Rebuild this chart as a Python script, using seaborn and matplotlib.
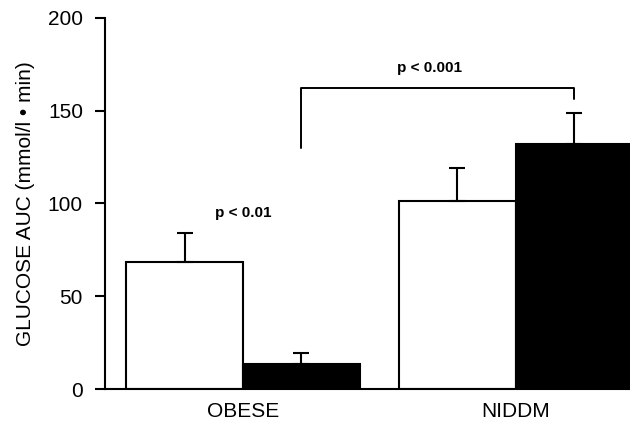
import matplotlib
matplotlib.use("Agg")
import matplotlib.pyplot as plt
import seaborn as sns
import pandas as pd
import numpy as np

# values
groups = ["OBESE", "NIDDM"]
conditions = ["before", "after"]
auc_before = [68.5, 101.5]
auc_after = [13.5, 132.0]
sem_before = [15.8, 17.8]
sem_after = [6.0, 16.5]

p_within = "p < 0.01"
p_between = "p < 0.001"

df = pd.DataFrame({
    "group": groups * 2,
    "condition": [conditions[0]] * 2 + [conditions[1]] * 2,
    "auc": auc_before + auc_after,
    "err": sem_before + sem_after,
})

sns.set_style("ticks", {"axes.edgecolor": "black", "text.color": "black",
                        "xtick.color": "black", "ytick.color": "black",
                        "axes.labelcolor": "black"})
plt.rcParams["font.family"] = ["Liberation Sans", "DejaVu Sans"]

fig, ax = plt.subplots(figsize=(6.3, 4.22), dpi=100)
fig.subplots_adjust(left=0.167, right=1.0, bottom=0.078, top=0.958)

sns.barplot(data=df, x="group", y="auc", hue="condition", order=groups,
            hue_order=conditions, palette=["white", "black"],
            edgecolor="black", linewidth=1.5, width=0.857,
            errorbar=None, legend=False, ax=ax)

# one-sided error bars from the bar centres
centers = {}
for cond, cont in zip(conditions, ax.containers):
    for g, bar in zip(groups, cont):
        cx = bar.get_x() + bar.get_width() / 2
        centers[(g, cond)] = cx
        row = df[(df.group == g) & (df.condition == cond)].iloc[0]
        ax.errorbar(cx, row["auc"], yerr=[[0], [row["err"]]], fmt="none",
                    ecolor="black", elinewidth=1.5, capsize=6,
                    capthick=1.5, zorder=5)

# significance bracket between obese-after and niddm-after
x1 = centers[("OBESE", "after")]
x2 = centers[("NIDDM", "after")]
ax.plot([x1, x1, x2, x2], [130, 162, 162, 156], color="black", lw=1.4,
        clip_on=False)
ax.text((x1 + x2) / 2 - 0.03, 169, p_between, ha="center", va="bottom",
        fontsize=11, fontweight="bold")
ax.text(0, 91, p_within, ha="center", va="bottom", fontsize=11,
        fontweight="bold")

ax.set_ylim(0, 200)
ax.set_xlim(-0.505, 1.418)
ax.set_yticks([0, 50, 100, 150, 200])
ax.set_xlabel("")
ax.set_ylabel("GLUCOSE AUC (mmol/l • min)", fontsize=15, labelpad=9)
ax.tick_params(axis="y", labelsize=15, length=7, width=1.5, pad=9)
ax.tick_params(axis="x", labelsize=15, length=0, pad=9)
sns.despine(ax=ax)
ax.spines["left"].set_linewidth(1.5)
ax.spines["bottom"].set_linewidth(1.5)

fig.savefig("out.png", dpi=100)
